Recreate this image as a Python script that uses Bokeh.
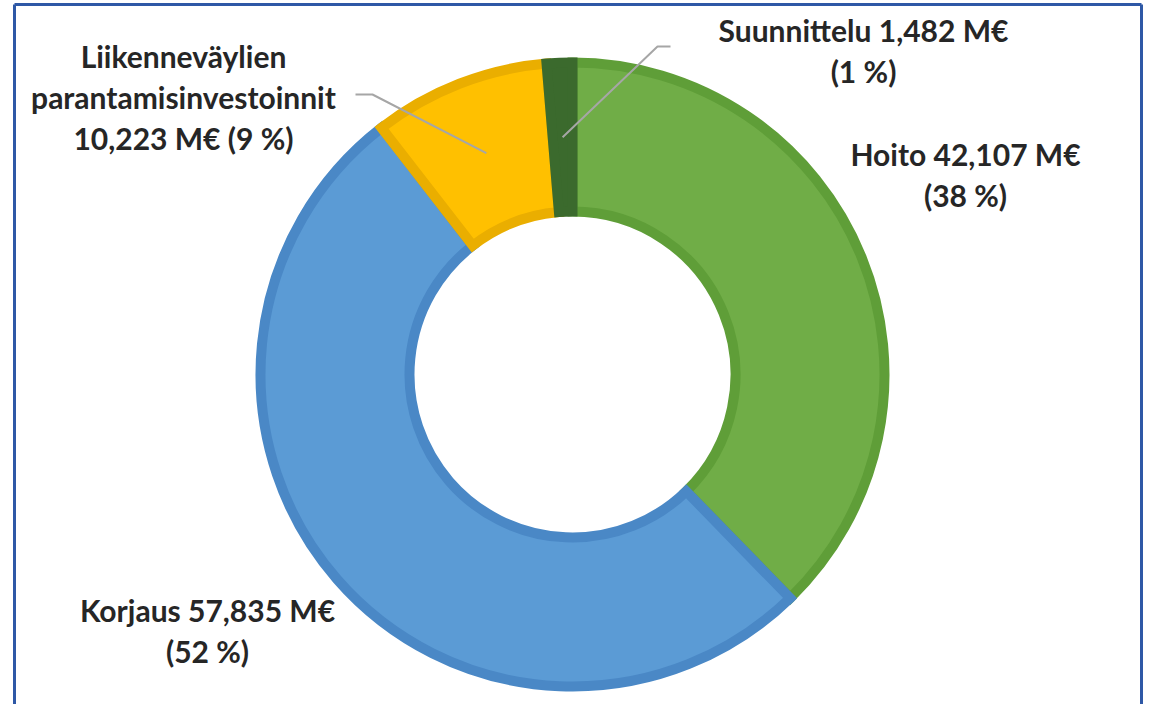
import math
from bokeh.plotting import figure
from bokeh.models import Range1d, ColumnDataSource
from bokeh.core.properties import value
from bokeh.embed import file_html
from bokeh.resources import INLINE

# ---- data ----
categories = ["Hoito", "Korjaus", "Liikenneväylien parantamisinvestoinnit", "Suunnittelu"]
values = [42.107, 57.835, 10.223, 1.482]          # M€
fill_colors = ["#70AD47", "#5B9BD5", "#FFC000", "#3B6A2D"]
edge_colors = ["#5F9E38", "#4A88C6", "#EAAE00", "#3B6A2D"]

# label layout (page pixel coords): centre x, first line y
label_pos = [(965, 153), (207, 609), (183, 55), (863, 29)]

W, H = 1144, 704
CX, CY = 572, 374          # donut centre in page pixels
R_OUT, R_IN = 312, 163     # geometric radii (stroke adds ~5px each side)
EDGE_W = 10

def fmt(v):
    return f"{v:.3f}".replace(".", ",")

total = sum(values)
pcts = [round(v / total * 100) for v in values]

p = figure(width=W, height=H, output_backend="svg", toolbar_location=None,
           x_range=Range1d(0, W), y_range=Range1d(-H, 0),
           min_border=0, background_fill_color="white", border_fill_color="white")
p.axis.visible = False
p.grid.visible = False
p.outline_line_color = None

# wedges, clockwise from 12 o'clock
starts, ends = [], []
cum = 0.0
for v in values:
    a0 = cum / total
    cum += v
    a1 = cum / total
    starts.append(math.pi / 2 - a1 * 2 * math.pi)
    ends.append(math.pi / 2 - a0 * 2 * math.pi)

src = ColumnDataSource(dict(x=[CX] * len(values), y=[-CY] * len(values),
                            start=starts, end=ends, fill=fill_colors, edge=edge_colors))
p.annular_wedge(x="x", y="y", inner_radius=R_IN, outer_radius=R_OUT,
                start_angle="start", end_angle="end", source=src,
                fill_color="fill", line_color="edge", line_width=EDGE_W,
                line_join="miter")

# leader lines for the two top slices
rmid = (R_IN + R_OUT) / 2
leaders = {2: (355, 372, 94), 3: (670, 657, 46)}
for idx, (xs, xb, yb) in leaders.items():
    mid = (starts[idx] + ends[idx]) / 2
    ex = CX + rmid * math.cos(mid)
    ey = -CY + rmid * math.sin(mid)
    p.line([xs, xb, ex], [-yb, -yb, ey], line_color="#A6A6A6", line_width=2)

# labels
lines_per = [
    [f"{categories[0]} {fmt(values[0])} M€", f"({pcts[0]} %)"],
    [f"{categories[1]} {fmt(values[1])} M€", f"({pcts[1]} %)"],
    categories[2].split(" ") + [f"{fmt(values[2])} M€ ({pcts[2]} %)"],
    [f"{categories[3]} {fmt(values[3])} M€", f"({pcts[3]} %)"],
]
LINE_H = 41
tx, ty, tt = [], [], []
for (lx, ly), lines in zip(label_pos, lines_per):
    for k, t in enumerate(lines):
        tx.append(lx)
        ty.append(-(ly + k * LINE_H))
        tt.append(t)
p.text(x=tx, y=ty, text=tt, text_font=value("Lato"), text_font_style="bold",
       text_font_size="30px", text_color="#262626",
       text_align="center", text_baseline="middle")

# frame border (left, top, right; bottom runs off the page)
bc = "#2E58A6"
p.segment(x0=[14, 14, 1141], y0=[-730, -4, -4], x1=[14, 1141, 1141], y1=[-4, -4, -730],
          line_color=bc, line_width=3)

open("out.html", "w").write(file_html(p, INLINE))
